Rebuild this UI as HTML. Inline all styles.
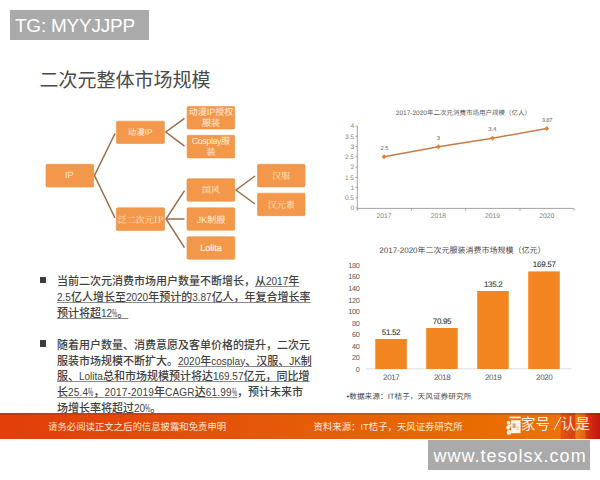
<!DOCTYPE html>
<html><head><meta charset="utf-8">
<style>
html,body{margin:0;padding:0;background:#fff;width:600px;height:480px;overflow:hidden;position:relative}
body{font-family:"Liberation Sans","Noto Sans CJK SC",sans-serif}
.a{position:absolute}
#tg{left:10px;top:10px;width:139px;height:30px;background:#aaaaaa;color:#fff;font-size:19px;line-height:31.5px;letter-spacing:-0.24px;padding-left:5px;box-sizing:border-box;white-space:nowrap}
#title{left:39.5px;top:67px;font-size:19px;line-height:28px;color:#4a4a4a;font-weight:400;white-space:nowrap}
.ln{position:absolute;left:57px;font-size:11px;line-height:16px;color:#404040;font-weight:500;white-space:nowrap}
.u{text-decoration:underline;text-decoration-color:#8a8a8a;text-underline-offset:1.2px}
.e{font-size:10px;line-height:10px}
.p{display:inline-block;width:5.2px;transform:scaleX(0.58);transform-origin:0 0}
.u .p{text-decoration:underline;text-decoration-color:#8a8a8a;text-underline-offset:1.2px;width:5.2px}
.bul{position:absolute;left:40.1px;width:6px;height:6.4px;background:#3d3d3d}
#bar{left:0;top:413.3px;width:600px;height:26.2px;background:linear-gradient(to right,#e23f0b 0px,#e2440a 80px,#e34c08 160px,#e55a08 290px,#e66404 385px,#e86c02 480px,#ec7006 545px,#ed7208 560px,#e4520f 561.5px,#d9420f 574.5px,#f07c14 576px,#e5600f 585px,#d8360e 586.5px,#c01510 600px)}
.ft{position:absolute;top:413px;line-height:27px;font-size:9.4px;color:#fde8dc;white-space:nowrap}
#www{left:428px;top:440px;width:162px;height:29.5px;background:#aaaaaa;color:#fff;font-size:18px;line-height:33.4px;letter-spacing:1px;padding-left:5.6px;overflow:hidden;box-sizing:border-box;white-space:nowrap}
</style></head><body>
<div id="tg" class="a">TG: MYYJJPP</div>
<div id="title" class="a">二次元整体市场规模</div>

<!-- mind map -->
<svg class="a" style="left:0;top:0" width="600" height="480" viewBox="0 0 600 480" font-family="Liberation Sans, Noto Sans CJK SC, sans-serif" text-rendering="geometricPrecision">
 <g stroke="#9e6c47" stroke-width="1.5" fill="none">
  <polyline points="115,133.5 94.5,175.5 115,218"/>
  <polyline points="184.5,118.3 165.8,132 184.5,146.2"/>
  <polyline points="184.5,190.6 166,219 184.5,247.6"/>
  <line x1="166" y1="219" x2="184.5" y2="219"/>
  <polyline points="255,176 236,190 255,204"/>
 </g>
 <g fill="#f3984a" stroke="#e99043" stroke-width="0.6">
  <rect x="46" y="164.3" width="47.7" height="22.8" rx="1.2"/>
  <rect x="116.4" y="121.2" width="48" height="22.3" rx="1.2"/>
  <rect x="116.3" y="207.8" width="48.3" height="22.6" rx="1.2"/>
  <rect x="187.1" y="106.5" width="47.6" height="22.5" rx="1.2"/>
  <rect x="187.1" y="135.3" width="47.6" height="22.6" rx="1.2"/>
  <rect x="187" y="178.7" width="47.8" height="22.6" rx="1.2"/>
  <rect x="187" y="207.8" width="47.8" height="22.5" rx="1.2"/>
  <rect x="187" y="236.7" width="47.8" height="22.6" rx="1.2"/>
  <rect x="257.5" y="164.3" width="47.5" height="22.6" rx="1.2"/>
  <rect x="257.5" y="193.2" width="47.5" height="22.5" rx="1.2"/>
 </g>
 <g fill="#fdeadb" font-size="9" text-anchor="middle">
  <text x="69.2" y="178.3">IP</text>
  <text x="140.2" y="134.8" font-size="8.4">动漫IP</text>
  <text x="140.5" y="222.5" font-family="Noto Serif CJK SC, serif">泛二次元IP</text>
  <text x="210.9" y="115.1">动漫IP授权</text>
  <text x="210.9" y="125.6">服装</text>
  <text x="210.9" y="144.3"><tspan letter-spacing="-0.45">Cosplay</tspan>服</text>
  <text x="210.9" y="155.4">装</text>
  <text x="210.9" y="193.1" font-family="Noto Serif CJK SC, serif">国风</text>
  <text x="210.9" y="222.6">JK制服</text>
  <text x="210.9" y="251.2" fill="#fff4ea" stroke="#fff4ea" stroke-width="0.2">Lolita</text>
  <text x="281.3" y="178.8" font-family="Noto Serif CJK SC, serif">汉服</text>
  <text x="281.3" y="208" font-family="Noto Serif CJK SC, serif">汉元素</text>
 </g>

 <!-- line chart -->
 <g font-family="Liberation Sans, Noto Sans CJK SC, sans-serif" fill="#858585">
  <text x="395.8" y="114.6" font-size="6.5" fill="#5a5a5a">2017-2020年二次元消费市场用户规模（亿人）</text>
  <g font-size="6.5" text-anchor="end">
   <text x="354" y="128.3">4</text>
   <text x="354" y="138.6">3.5</text>
   <text x="354" y="148.8">3</text>
   <text x="354" y="159.1">2.5</text>
   <text x="354" y="169.3">2</text>
   <text x="354" y="179.6">1.5</text>
   <text x="354" y="189.8">1</text>
   <text x="354" y="200.1">0.5</text>
   <text x="354" y="210.3">0</text>
  </g>
  <g font-size="6.8" text-anchor="middle">
   <text x="384.1" y="217.8">2017</text>
   <text x="438.4" y="217.8">2018</text>
   <text x="492.6" y="217.8">2019</text>
   <text x="546.8" y="217.8">2020</text>
  </g>
  <g font-size="5.8" text-anchor="middle" fill="#666">
   <text x="384.5" y="150.1">2.5</text>
   <text x="438.4" y="139.7">3</text>
   <text x="492.4" y="131.1">3.4</text>
   <text x="547" y="121.5" letter-spacing="-0.25">3.87</text>
  </g>
 </g>
 <g stroke="#8c8c8c" stroke-width="0.8" fill="none">
  <line x1="357.3" y1="126" x2="357.3" y2="208.4"/>
  <line x1="357" y1="208.4" x2="574" y2="208.4"/>
  <path d="M355.6 126H357.3M355.6 136.3H357.3M355.6 146.5H357.3M355.6 156.8H357.3M355.6 167H357.3M355.6 177.3H357.3M355.6 187.5H357.3M355.6 197.8H357.3M355.6 208H357.3"/>
  <path d="M411.5 208.4V210.6M465.7 208.4V210.6M520 208.4V210.6M574 208.4V210.6M357.3 208.4V210.6"/>
 </g>
 <polyline points="384.1,156.7 438.4,146.7 492.4,138.2 546.8,128.5" stroke="#c47d48" stroke-width="1.5" fill="none"/>
 <g fill="#d8843a">
  <path d="M384.1 154.2L386.5 156.7L384.1 159.2L381.7 156.7Z"/>
  <path d="M438.4 144.2L440.8 146.7L438.4 149.2L436 146.7Z"/>
  <path d="M492.4 135.7L494.8 138.2L492.4 140.7L490 138.2Z"/>
  <path d="M546.8 126L549.2 128.5L546.8 131L544.4 128.5Z"/>
 </g>

 <!-- bar chart -->
 <g fill="#555" font-family="Liberation Sans, Noto Sans CJK SC, sans-serif">
  <text x="379.3" y="253" font-size="8" fill="#4a4a4a">2017-2020年二次元服装消费市场规模（亿元）</text>
  <g font-size="7.3" text-anchor="end" fill="#595959" letter-spacing="-0.25">
   <text x="359.6" y="267.9">180</text>
   <text x="359.6" y="279.4">160</text>
   <text x="359.6" y="291">140</text>
   <text x="359.6" y="302.5">120</text>
   <text x="359.6" y="314.1">100</text>
   <text x="359.6" y="325.6">80</text>
   <text x="359.6" y="337.2">60</text>
   <text x="359.6" y="348.7">40</text>
   <text x="359.6" y="360.3">20</text>
   <text x="359.6" y="371.8">0</text>
  </g>
 </g>
 <line x1="366" y1="368.8" x2="571.5" y2="368.8" stroke="#d9d9d9" stroke-width="0.9"/>
 <g fill="#f38520">
  <rect x="375.3" y="339" width="31.5" height="30"/>
  <rect x="426.2" y="328" width="31.5" height="41"/>
  <rect x="477.2" y="291" width="31.5" height="78"/>
  <rect x="528.2" y="271.4" width="31.6" height="97.6"/>
 </g>
 <g font-size="8" text-anchor="middle" fill="#333" stroke="#333" stroke-width="0.08" letter-spacing="-0.3">
  <text x="391" y="334.9">51.52</text>
  <text x="442" y="323.8">70.95</text>
  <text x="493.2" y="286.8">135.2</text>
  <text x="544.2" y="266.8">169.57</text>
 </g>
 <g font-size="8" text-anchor="middle" fill="#5a5a5a" letter-spacing="-0.4">
  <text x="391.2" y="380">2017</text>
  <text x="442.1" y="380">2018</text>
  <text x="493.1" y="380">2019</text>
  <text x="544.2" y="380">2020</text>
 </g>
 <text x="346.5" y="398.8" font-size="7.7" fill="#4a4a4a">•数据来源：IT桔子，天风证券研究所</text>
</svg>

<!-- bullets -->
<div class="bul" style="top:277.1px"></div>
<div class="ln" style="top:273.2px">当前二次元消费市场用户数量不断增长，<span class="u">从<span class="e">2017</span>年</span></div>
<div class="ln" style="top:288.7px"><span class="u"><span class="e">2.5</span>亿人增长至<span class="e">2020</span>年预计的<span class="e">3.87</span>亿人，年复合增长率</span></div>
<div class="ln" style="top:304.8px"><span class="u">预计将超<span class="e">12<span class="p">%</span></span>。</span></div>

<div class="bul" style="top:340.3px"></div>
<div class="ln" style="top:337px">随着用户数量、消费意愿及客单价格的提升，二次元</div>
<div class="ln" style="top:352.5px">服装市场规模不断扩大。<span class="u"><span class="e">2020</span>年<span class="e">cosplay</span>、汉服、<span class="e">JK</span>制</span></div>
<div class="ln" style="top:368px"><span class="u">服、<span class="e">Lolita</span>总和市场规模预计将达<span class="e">169.57</span>亿元，同比增</span></div>
<div class="ln" style="top:383.7px"><span class="u">长<span class="e" style="letter-spacing:0.2px">25.4<span class="p">%</span></span>，<span class="e" style="letter-spacing:0.2px">2017-2019</span>年<span class="e" style="letter-spacing:0.2px">CAGR</span>达<span class="e" style="letter-spacing:0.2px">61.99<span class="p">%</span></span></span>，预计未来市</div>
<div class="ln" style="top:399.5px">场增长率将超过<span class="e">20<span class="p">%</span></span>。</div>

<div id="bar" class="a"></div>
<div class="a" style="left:0;top:413.3px;width:600px;height:1.6px;background:rgba(110,40,0,0.22)"></div>
<div class="ft" style="left:48px">请务必阅读正文之后的信息披露和免责申明</div>
<div class="ft" style="left:313.6px">资料来源：IT桔子，天风证券研究所</div>
<svg class="a" style="left:504px;top:414px" width="20" height="24" viewBox="504 414 20 24">
 <rect x="509.2" y="416.6" width="11.6" height="1.7" fill="#fff1e2"/>
 <path d="M511 420.2H520.6V433.2H511Z" fill="#fff4e8"/>
 <circle cx="508.6" cy="422.6" r="1.9" fill="#fff1e2"/>
 <circle cx="508.2" cy="427.6" r="2.1" fill="#fff1e2"/>
 <circle cx="509" cy="432.4" r="2.3" fill="#fff1e2"/>
 <rect x="507.6" y="424.5" width="4" height="2" fill="#fff1e2"/>
 <rect x="512.6" y="423.4" width="3" height="4.6" fill="#c9a58a"/>
 <rect x="516.2" y="426" width="2.6" height="4" fill="#e9d8c8"/>
</svg>
<div class="ft" style="left:521px;top:413px;font-size:14.5px;font-weight:400;color:#fff2e8;line-height:23px">家号</div>
<svg class="a" style="left:552px;top:416px" width="10" height="15"><line x1="9" y1="1" x2="2" y2="14" stroke="#fff2e6" stroke-width="1"/></svg>
<div class="ft" style="left:561px;top:413px;font-size:14.5px;font-weight:400;color:#fde6d6;line-height:23px">认是</div>
<div id="www" class="a">www.tesolsx.com</div>
</body></html>
